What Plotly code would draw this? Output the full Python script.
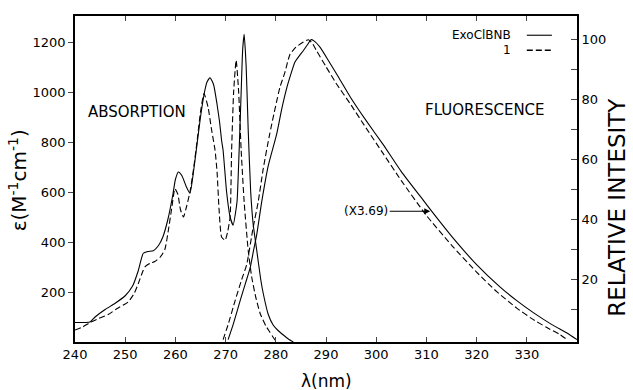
import plotly.graph_objects as go

# ---------------- data ----------------
abs_solid_wl = [240.0, 242.0, 243.0, 244.0, 246.0, 248.0, 250.0, 251.5, 252.6, 253.6, 254.5, 255.6,
                256.6, 257.5, 258.5, 259.5, 260.0, 260.6, 261.3, 262.2, 262.9, 263.6, 264.3, 265.0,
                265.8, 266.3, 266.9, 267.6, 268.3, 268.8, 269.2, 269.5, 270.2, 270.9, 271.5, 272.0,
                272.3, 272.7, 273.1, 273.4, 273.7, 274.1, 274.5, 275.0, 275.5, 276.2, 277.0, 277.5,
                278.5, 279.5, 280.5, 281.5, 282.5, 283.5]
abs_solid_eps = [78, 78, 80, 100, 130, 155, 185, 225, 285, 355, 362, 365,
                 385, 420, 490, 590, 650, 680, 665, 620, 595, 680, 790, 900,
                 1000, 1040, 1057, 1030, 950, 880, 807, 767, 600, 500, 467, 520,
                 567, 767, 1000, 1170, 1231, 1100, 850, 600, 470, 367, 250, 194,
                 110, 67, 45, 28, 12, 0]

abs_dash_wl = [240.0, 241.5, 243.0, 244.5, 246.6, 248.5, 250.6, 251.8, 252.6, 253.9, 255.0, 255.9,
               257.0, 257.9, 258.6, 259.3, 259.9, 260.5, 261.0, 261.6, 262.2, 262.9, 263.6, 264.3,
               265.0, 265.7, 266.5, 267.2, 267.9, 268.3, 268.7, 269.2, 269.9, 270.4, 270.9, 271.2,
               271.6, 272.1, 272.6, 273.1, 273.7, 274.5, 275.2, 276.0, 276.9, 278.0, 278.8, 279.5,
               280.2]
abs_dash_eps = [48, 60, 78, 92, 110, 135, 160, 195, 233, 300, 315, 322,
                340, 370, 447, 540, 613, 590, 530, 500, 540, 600, 690, 800,
                920, 994, 940, 850, 767, 680, 530, 420, 407, 440, 500, 767,
                1000, 1127, 1000, 767, 560, 367, 260, 180, 113, 65, 40, 18,
                0]

fl_solid_wl = [270.5, 271.5, 272.9, 274.0, 274.9, 275.6, 276.2, 277.2, 278.5, 280.2, 281.2, 282.2,
               283.0, 283.8, 285.5, 286.5, 287.0, 287.6, 288.8, 290.5, 292.5, 294.8, 298.0, 301.4,
               305.0, 309.4, 311.0, 315.0, 320.0, 324.7, 328.0, 331.3, 335.0, 338.0, 340.0]
fl_solid_ri = [0, 5, 13, 19, 24, 30, 35, 46, 58, 68.7, 77, 84,
               88.5, 92.5, 96.4, 98.8, 100, 99.6, 97.5, 93, 87.5, 81, 73, 65,
               56, 46.4, 42.9, 34.5, 25, 17.5, 13, 9, 5, 2.2, 0]

fl_dash_wl = [269.5, 270.5, 271.9, 273.2, 274.2, 275.5, 276.5, 277.5, 278.8, 280.8, 281.8, 282.8,
              284.0, 285.5, 286.5, 287.2, 288.1, 290.0, 292.0, 294.8, 298.0, 301.4, 305.0, 310.0,
              315.0, 320.0, 324.0, 328.0, 331.0, 334.0, 336.5, 338.0]
fl_dash_ri = [0, 5, 13, 20, 25, 37.5, 46, 57, 68.7, 84, 89, 95,
              97.5, 99.2, 100, 99, 96.4, 91, 85.5, 78.7, 70.5, 62, 53, 41.4,
              31.5, 22.5, 16, 10.5, 7, 4, 1.8, 0]

x_ticks = [240, 250, 260, 270, 280, 290, 300, 310, 320, 330]
y_ticks = [200, 400, 600, 800, 1000, 1200]
y2_ticks = [20, 40, 60, 80, 100]

series_names = ["ExoClBNB", "1"]

# ---------------- figure ----------------
FONT = "DejaVu Sans"
solid = dict(color="black", width=1.1, shape="spline", smoothing=0.5)
dashed = dict(color="black", width=1.1, dash="6px,3px", shape="spline", smoothing=0.5)

fig = go.Figure()
fig.add_trace(go.Scatter(x=abs_solid_wl, y=abs_solid_eps, mode="lines", line=solid,
                         name=series_names[0], showlegend=False))
fig.add_trace(go.Scatter(x=abs_dash_wl, y=abs_dash_eps, mode="lines", line=dashed,
                         name=series_names[1], showlegend=False))
fig.add_trace(go.Scatter(x=fl_solid_wl, y=fl_solid_ri, mode="lines", line=solid, yaxis="y2",
                         name=series_names[0], showlegend=False))
fig.add_trace(go.Scatter(x=fl_dash_wl, y=fl_dash_ri, mode="lines", line=dashed, yaxis="y2",
                         name=series_names[1], showlegend=False))

tickfont = dict(family=FONT, size=13, color="black")
fig.update_layout(
    width=633, height=390,
    margin=dict(l=75, r=56, t=16, b=48),
    paper_bgcolor="white", plot_bgcolor="white",
    font=dict(family=FONT, color="black"),
    xaxis=dict(range=[240, 340], tickvals=x_ticks, ticks="inside", ticklen=5, tickwidth=1.2,
               showline=True, linewidth=1.6, linecolor="black", mirror="ticks",
               showgrid=False, zeroline=False, tickfont=tickfont),
    yaxis=dict(range=[0, 1304], tickvals=y_ticks, ticks="outside", ticklen=5, tickwidth=1.2,
               showline=True, linewidth=1.6, linecolor="black",
               showgrid=False, zeroline=False, tickfont=tickfont),
    yaxis2=dict(range=[-0.8, 107.9], overlaying="y", side="right", tickvals=y2_ticks,
                ticks="inside", ticklen=6, tickwidth=1.2,
                minor=dict(tickvals=[10, 30, 50, 70, 90], ticks="inside", ticklen=6, tickwidth=1.2),
                showline=True, linewidth=1.6, linecolor="black",
                showgrid=False, zeroline=False, tickfont=tickfont),
)

def txt(text, x, y, size, angle=0, xanchor="center"):
    fig.add_annotation(text=text, x=x, y=y, xref="paper", yref="paper", showarrow=False,
                       textangle=angle, xanchor=xanchor, yanchor="middle",
                       font=dict(family=FONT, size=size, color="black"))

txt("ABSORPTION", 0.1235, 0.7055, 15)
txt("FLUORESCENCE", 0.8177, 0.711, 15)
txt("λ(nm)", 0.5, -0.1206, 17)
txt("ε(M<sup>-1</sup>cm<sup>-1</sup>)", -0.1135, 0.496, 20, angle=-90)
txt("RELATIVE INTESITY", 1.080, 0.412, 23, angle=-90)

# legend (text left of the line sample, as in the reference)
txt(series_names[0], 0.8725, 0.941, 12, xanchor="right")
txt(series_names[1], 0.8725, 0.895, 12, xanchor="right")
fig.add_shape(type="line", xref="paper", yref="paper", x0=0.900, x1=0.950, y0=0.941, y1=0.941,
              line=dict(color="black", width=1.1))
fig.add_shape(type="line", xref="paper", yref="paper", x0=0.900, x1=0.950, y0=0.895, y1=0.895,
              line=dict(color="black", width=1.3, dash="6px,3px"))

# scale-factor note with arrow to the fluorescence curve
fig.add_annotation(text="(X3.69)", x=310.76, y=42.8, xref="x", yref="y2",
                   showarrow=True, ax=-64, ay=0, arrowhead=2, arrowsize=1, arrowwidth=1.2,
                   arrowcolor="black", font=dict(family=FONT, size=12, color="black"))

fig.write_html("out.html")
